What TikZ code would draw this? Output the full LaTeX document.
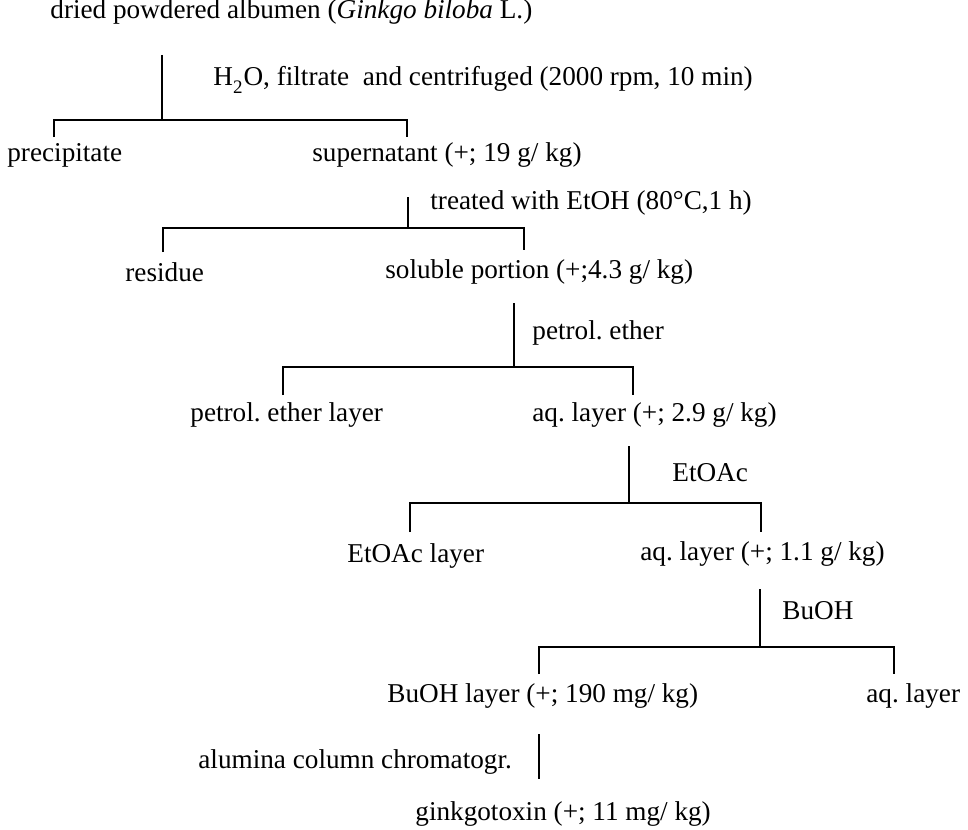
\documentclass[tikz,border=0pt]{standalone}
\usepackage{fontspec}
\setmainfont{Liberation Serif}
\frenchspacing
\begin{document}
\begin{tikzpicture}[x=0.5pt, y=-0.5pt,
    txt/.style={anchor=west, inner sep=0pt, font=\fontsize{13.6}{16}\selectfont},
    bar/.style={line width=1pt}]
    \useasboundingbox (0,0) rectangle (968,829);

    % Fractions
    \node (albumen) [txt] at (50,12) {dried powdered albumen (\textit{Ginkgo biloba} L.)};
    \node (precip) [txt] at (7,155) {precipitate};
    \node (super) [txt] at (312,155) {supernatant (+; 19 g/ kg)};
    \node (residue) [txt] at (125,272) {residue};
    \node (soluble) [txt] at (385,272) {soluble portion (+;4.3 g/ kg)};
    \node (petlayer) [txt] at (190,415) {petrol. ether layer};
    \node (aqA) [txt] at (532,415) {aq. layer (+; 2.9 g/ kg)};
    \node (etlayer) [txt] at (347,556) {EtOAc layer};
    \node (aqB) [txt] at (640,554) {aq. layer (+; 1.1 g/ kg)};
    \node (bulayer) [txt] at (387,696) {BuOH layer (+; 190 mg/ kg)};
    \node (aqC) [txt] at (866,696) {aq. layer};
    \node (toxin) [txt] at (415,814) {ginkgotoxin (+; 11 mg/ kg)};

    % Steps
    \node (water) [txt] at (213,80) {H\raisebox{-0.3ex}{\textsubscript{2}}O, filtrate \ and centrifuged (2000 rpm, 10 min)};
    \node (ethanol) [txt] at (430,203) {treated with EtOH (80°C,1 h)};
    \node (petrol) [txt] at (532,333) {petrol. ether};
    \node (etoac) [txt] at (672,473) {EtOAc};
    \node (buoh) [txt] at (782,611) {BuOH};
    \node (column) [txt] at (198,762) {alumina column chromatogr.};

    % Branch points
    \coordinate (s1) at (162,55);  \coordinate (j1) at (162,120);
    \coordinate (l1) at (54,137);  \coordinate (r1) at (407,137);
    \coordinate (s2) at (408,197); \coordinate (j2) at (408,228);
    \coordinate (l2) at (163,252); \coordinate (r2) at (524,250);
    \coordinate (s3) at (514,303); \coordinate (j3) at (514,367);
    \coordinate (l3) at (283,395); \coordinate (r3) at (633,395);
    \coordinate (s4) at (629,446); \coordinate (j4) at (629,503);
    \coordinate (l4) at (410,532); \coordinate (r4) at (761,532);
    \coordinate (s5) at (760,589); \coordinate (j5) at (760,647);
    \coordinate (l5) at (539,674); \coordinate (r5) at (894,674);
    \coordinate (s6) at (539,734); \coordinate (e6) at (539,779);

    % Lines
    \foreach \i in {1,...,5}{
        \draw[bar] (s\i) -- (j\i);
        \draw[bar] (l\i) |- (j\i) -| (r\i);
    }
    \draw[bar] (s6) -- (e6);
\end{tikzpicture}
\end{document}
